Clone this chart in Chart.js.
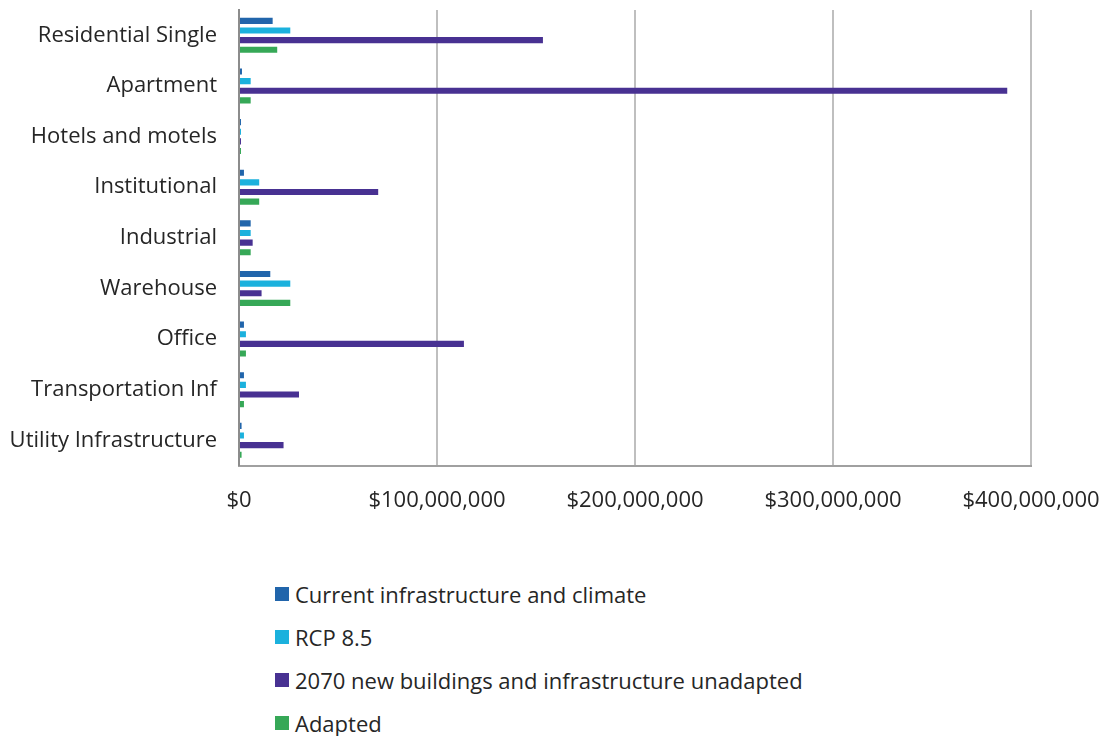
<!DOCTYPE html>
<html>
<head>
<meta charset="utf-8">
<script src="https://cdn.jsdelivr.net/npm/chart.js@4.4.1/dist/chart.umd.min.js"></script>
<style>
  body { margin: 0; background: #fff; font-family: "Open Sans", sans-serif; }
  #wrap { position: relative; width: 1103px; height: 736px; }
  #chartBox { position: absolute; left: 0; top: 0; width: 1103px; height: 536px; }
  #legend { position: absolute; left: 275px; top: 572px; color: #262626; font-size: 22px; }
  #legend div { display: flex; align-items: center; height: 43px; }
  #legend span.box { display: inline-block; width: 14px; height: 14px; margin-right: 6px; }
</style>
</head>
<body>
<div id="wrap">
  <div id="chartBox"><canvas id="lossChart"></canvas></div>
  <div id="legend"></div>
</div>
<script>
// building types, top to bottom
const categories = [
  "Residential Single", "Apartment", "Hotels and motels", "Institutional",
  "Industrial", "Warehouse", "Office", "Transportation Inf", "Utility Infrastructure"
];

// annual damage in dollars
const currentClimate = [17000000, 1500000, 1000000, 2500000, 5900000, 15800000, 2500000, 2500000, 1300000];
const rcp85 = [25900000, 5900000, 1000000, 10200000, 5900000, 25900000, 3500000, 3500000, 2500000];
const unadapted2070 = [153500000, 388000000, 1000000, 70300000, 6900000, 11400000, 113600000, 30300000, 22500000];
const adapted = [19300000, 5900000, 1000000, 10200000, 5900000, 25900000, 3500000, 2500000, 1300000];

const seriesNames = [
  "Current infrastructure and climate",
  "RCP 8.5",
  "2070 new buildings and infrastructure unadapted",
  "Adapted"
];
const seriesColors = ["#2165ab", "#1bb1dd", "#483192", "#36a857"];

const xTicks = [0, 100000000, 200000000, 300000000, 400000000];

const values = [currentClimate, rcp85, unadapted2070, adapted];
const labelFont = { family: "Open Sans", size: 22 };

const ctx = document.getElementById("lossChart").getContext("2d");
const chart = new Chart(ctx, {
  type: "bar",
  data: {
    labels: categories,
    datasets: values.map((v, i) => ({
      label: seriesNames[i],
      data: v,
      backgroundColor: seriesColors[i],
      borderWidth: 0,
      categoryPercentage: 0.76,
      barPercentage: 0.64
    }))
  },
  options: {
    indexAxis: "y",
    responsive: true,
    maintainAspectRatio: false,
    animation: false,
    layout: { padding: { top: 10, right: 0, bottom: 0, left: 6 } },
    plugins: {
      legend: { display: false },
      tooltip: { enabled: false }
    },
    scales: {
      x: {
        min: xTicks[0],
        max: xTicks[xTicks.length - 1],
        afterBuildTicks: axis => { axis.ticks = xTicks.map(v => ({ value: v })); },
        afterFit: axis => { axis.paddingLeft = 0; axis.paddingRight = 72; },
        grid: { color: "#bfbfbf", lineWidth: 2, drawTicks: false },
        border: { display: true, color: "#a0a0a0", width: 2 },
        ticks: {
          padding: 22,
          color: "#262626",
          font: labelFont,
          maxRotation: 0,
          callback: v => "$" + Number(v).toLocaleString("en-US")
        }
      },
      y: {
        afterFit: axis => { axis.paddingTop = 0; axis.paddingBottom = 0; axis.width = 233; },
        grid: { display: false, drawTicks: false },
        border: { display: true, color: "#8c8c8c", width: 2 },
        ticks: {
          padding: 22,
          color: "#262626",
          font: labelFont
        }
      }
    }
  }
});

// legend stacked one entry per line under the chart
const legendEl = document.getElementById("legend");
chart.data.datasets.forEach(ds => {
  const row = document.createElement("div");
  row.innerHTML = `<span class="box" style="background:${ds.backgroundColor}"></span>${ds.label}`;
  legendEl.appendChild(row);
});
</script>
</body>
</html>
